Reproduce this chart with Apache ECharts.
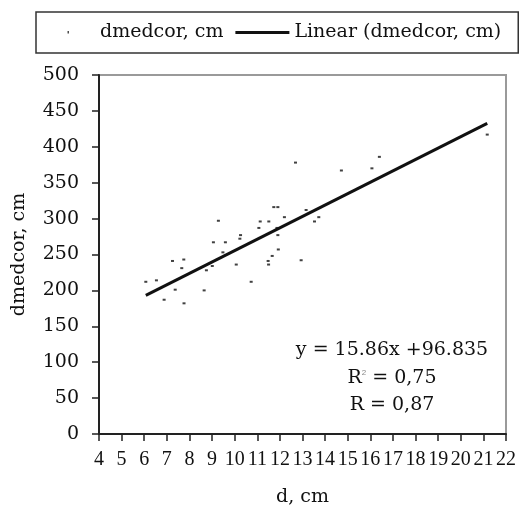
<!DOCTYPE html>
<html>
<head>
<meta charset="utf-8">
<script src="https://cdn.jsdelivr.net/npm/echarts@6/dist/echarts.min.js"></script>
<style>
html,body{margin:0;padding:0;background:#fff;}
#chart{width:519px;height:512px;}
</style>
</head>
<body>
<div id="chart"></div>
<script>
// Observed points (d, cm ; dmedcor, cm)
var xValues = [6.07, 6.54, 6.88, 7.37, 7.25, 7.75, 7.66, 7.76, 8.65, 8.75, 9.01, 9.06, 9.28, 9.59, 9.48, 10.07, 10.26, 10.23, 10.73, 11.07, 11.13, 11.51, 11.48, 11.50, 11.66, 11.93, 11.73, 11.91, 11.91, 11.87, 12.20, 12.69, 12.94, 13.16, 13.53, 13.72, 14.72, 16.07, 16.40, 21.17];
var yValues = [212, 214, 187, 201, 241, 243, 231, 182, 200, 228, 234, 267, 297, 267, 253, 236, 277, 272, 212, 287, 296, 296, 241, 236, 248, 257, 316, 316, 277, 287, 302, 378, 242, 312, 296, 302, 367, 370, 386, 417];
// Trendline coefficients
var trendSlope = 15.86;
var trendIntercept = 96.835;
// Axis ticks
var xTicks = [4, 5, 6, 7, 8, 9, 10, 11, 12, 13, 14, 15, 16, 17, 18, 19, 20, 21, 22];
var yTicks = [0, 50, 100, 150, 200, 250, 300, 350, 400, 450, 500];
var seriesNames = ['dmedcor, cm', 'Linear (dmedcor, cm)'];
var annotationLines = ['y = 15.86x +96.835', 'R{sup|2} = 0,75', 'R = 0,87'];

var FONT = 'DejaVu Serif';
var points = xValues.map(function (x, i) { return [x, yValues[i]]; });
var xMinData = Math.min.apply(null, xValues);
var xMaxData = Math.max.apply(null, xValues);
var trend = [[xMinData, trendSlope * xMinData + trendIntercept], [xMaxData, trendSlope * xMaxData + trendIntercept]];

var chart = echarts.init(document.getElementById('chart'), null, {renderer: 'canvas'});
chart.setOption({
  animation: false,
  backgroundColor: '#fff',
  textStyle: {fontFamily: FONT},
  grid: {left: 99, right: 12, top: 75, bottom: 72, show: true, borderColor: '#9a9a9a', borderWidth: 2, backgroundColor: 'transparent'},
  legend: {
    left: 36, top: 12,
    padding: [11, 17, 11, 5],
    borderColor: '#333', borderWidth: 1.5,
    itemWidth: 54, itemHeight: 14, itemGap: 12,
    textStyle: {fontFamily: FONT, fontSize: 19, color: '#111'},
    data: [
      {name: seriesNames[0], icon: 'path://M0,0L0.001,0Z M26.5,5.5h1.5v2.5h-1.5Z M54,14L54.001,14Z', itemStyle: {color: '#222', borderWidth: 0}},
      {name: seriesNames[1], icon: 'path://M0,6h54v3h-54Z', itemStyle: {color: '#111', borderWidth: 0}}
    ]
  },
  xAxis: {
    type: 'value', min: xTicks[0], max: xTicks[xTicks.length - 1], interval: 1,
    name: 'd, cm', nameLocation: 'middle', nameGap: 54,
    nameTextStyle: {fontFamily: FONT, fontSize: 19, color: '#111'},
    axisLine: {onZero: false, lineStyle: {color: '#222', width: 2}},
    axisTick: {show: true, length: 7, lineStyle: {color: '#222', width: 1.5}},
    splitLine: {show: false},
    axisLabel: {margin: 16, fontFamily: 'Liberation Serif', fontSize: 20, color: '#111', hideOverlap: false}
  },
  yAxis: {
    type: 'value', min: yTicks[0], max: yTicks[yTicks.length - 1], interval: 50,
    name: 'dmedcor, cm', nameLocation: 'middle', nameGap: 70, nameRotate: 90,
    nameTextStyle: {fontFamily: FONT, fontSize: 19, color: '#111'},
    axisLine: {show: true, onZero: false, lineStyle: {color: '#222', width: 2}},
    axisTick: {show: true, length: 7, lineStyle: {color: '#222', width: 1.5}},
    splitLine: {show: false},
    axisLabel: {margin: 20, fontFamily: FONT, fontSize: 19, color: '#111'}
  },
  series: [
    {
      name: seriesNames[0], type: 'scatter', data: points,
      symbol: 'rect', symbolSize: [3, 2],
      itemStyle: {color: '#111'}, z: 3
    },
    {
      name: seriesNames[1], type: 'line', data: trend,
      symbol: 'none', lineStyle: {color: '#111', width: 3}, itemStyle: {color: '#111'}, z: 2
    }
  ],
  graphic: [
    {type: 'text', x: 392, y: 350, style: {text: annotationLines[0], font: '19px "DejaVu Serif"', fill: '#111', textAlign: 'center', textVerticalAlign: 'middle'}},
    {type: 'text', x: 392, y: 378, style: {text: annotationLines[1], font: '19px "DejaVu Serif"', fill: '#111', textAlign: 'center', textVerticalAlign: 'middle', rich: {sup: {fontSize: 8, fill: '#888', verticalAlign: 'top', padding: [0, 0, 10, 0]}}}},
    {type: 'text', x: 392, y: 405, style: {text: annotationLines[2], font: '19px "DejaVu Serif"', fill: '#111', textAlign: 'center', textVerticalAlign: 'middle'}}
  ]
});
</script>
</body>
</html>
